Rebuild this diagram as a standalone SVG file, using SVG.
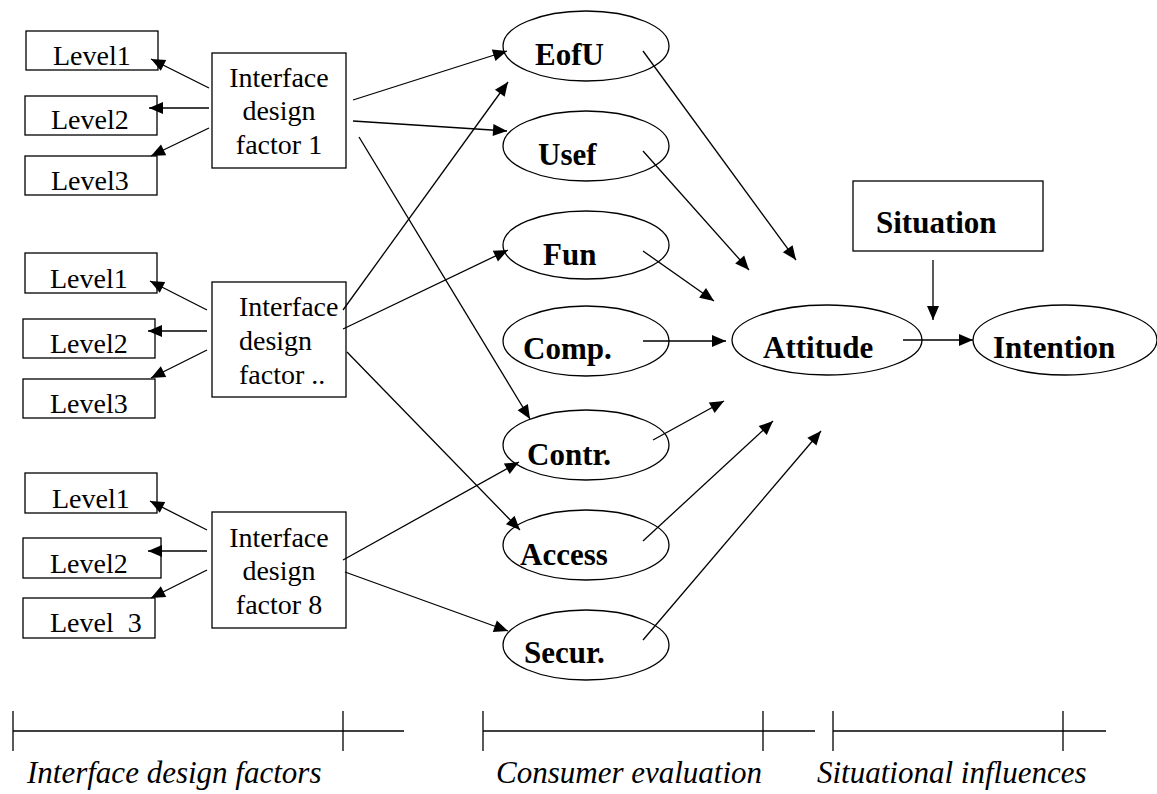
<svg xmlns="http://www.w3.org/2000/svg" width="1157" height="794" viewBox="0 0 1157 794">
<style>
.box{fill:#fff;stroke:#000;stroke-width:1.3}
.ell{fill:#fff;stroke:#000;stroke-width:1.3}
.t{font-family:"Liberation Serif","Times New Roman",serif;font-size:28px;fill:#000}
.b{font-family:"Liberation Serif","Times New Roman",serif;font-size:31px;font-weight:bold;fill:#000}
.i{font-family:"Liberation Serif","Times New Roman",serif;font-size:31px;font-style:italic;fill:#000}
.c{text-anchor:middle}
.ln{stroke:#000;stroke-width:1.3;fill:none}
.ar{stroke:#000;stroke-width:1.3;fill:none;marker-end:url(#ah)}
</style>
<defs>
<marker id="ah" markerUnits="userSpaceOnUse" markerWidth="16" markerHeight="14" viewBox="0 0 16 14" refX="15" refY="7" orient="auto">
<path d="M1,1 L15,7 L1,13 z" fill="#000"/>
</marker>
</defs>
<rect width="1157" height="794" fill="#fff"/>

<g id="g1-level1"><rect class="box" x="26" y="31" width="132" height="39"/><text class="t" x="53" y="65">Level1</text></g>
<g id="g1-level2"><rect class="box" x="25" y="96" width="132" height="39"/><text class="t" x="51" y="129">Level2</text></g>
<g id="g1-level3"><rect class="box" x="25" y="156" width="132" height="39"/><text class="t" x="51" y="190">Level3</text></g>
<g id="factor1"><rect class="box" x="212" y="53" width="134" height="115"/>
<text class="t c" x="279" y="87">Interface</text><text class="t c" x="279" y="120">design</text><text class="t c" x="279" y="154">factor 1</text></g>

<g id="g2-level1"><rect class="box" x="25" y="253" width="132" height="40"/><text class="t" x="50" y="288">Level1</text></g>
<g id="g2-level2"><rect class="box" x="23" y="319" width="132" height="39"/><text class="t" x="50" y="353">Level2</text></g>
<g id="g2-level3"><rect class="box" x="23" y="379" width="132" height="39"/><text class="t" x="50" y="413">Level3</text></g>
<g id="factor2"><rect class="box" x="212" y="282" width="134" height="115"/>
<text class="t" x="239" y="316">Interface</text><text class="t" x="239" y="350">design</text><text class="t" x="239" y="384">factor ..</text></g>

<g id="g3-level1"><rect class="box" x="25" y="473" width="132" height="40"/><text class="t" x="52" y="508">Level1</text></g>
<g id="g3-level2"><rect class="box" x="23" y="538" width="138" height="40"/><text class="t" x="50" y="573">Level2</text></g>
<g id="g3-level3"><rect class="box" x="23" y="598" width="132" height="40"/><text class="t" x="50" y="632" xml:space="preserve">Level  3</text></g>
<g id="factor8"><rect class="box" x="212" y="512" width="134" height="116"/>
<text class="t c" x="279" y="547">Interface</text><text class="t c" x="279" y="580">design</text><text class="t c" x="279" y="614">factor 8</text></g>

<g id="eofu"><ellipse class="ell" cx="586" cy="46" rx="83" ry="35"/><text class="b" x="535" y="65">EofU</text></g>
<g id="usef"><ellipse class="ell" cx="586" cy="146" rx="83" ry="35"/><text class="b" x="538" y="165">Usef</text></g>
<g id="fun"><ellipse class="ell" cx="586" cy="245" rx="83" ry="34"/><text class="b" x="543" y="265">Fun</text></g>
<g id="comp"><ellipse class="ell" cx="586" cy="341" rx="83" ry="35"/><text class="b" x="523" y="359">Comp.</text></g>
<g id="contr"><ellipse class="ell" cx="586" cy="445" rx="83" ry="35"/><text class="b" x="527" y="465">Contr.</text></g>
<g id="access"><ellipse class="ell" cx="586" cy="545" rx="83" ry="35"/><text class="b" x="520" y="565">Access</text></g>
<g id="secur"><ellipse class="ell" cx="586" cy="645" rx="83" ry="35"/><text class="b" x="524" y="663">Secur.</text></g>

<g id="attitude"><ellipse class="ell" cx="827" cy="340" rx="95" ry="35"/><text class="b" x="763" y="358">Attitude</text></g>
<g id="intention"><ellipse class="ell" cx="1065" cy="340" rx="92" ry="35"/><text class="b" x="993" y="358">Intention</text></g>
<g id="situation"><rect class="box" x="853" y="181" width="190" height="70"/><text class="b" x="876" y="233">Situation</text></g>

<g id="connectors">
<line class="ar" x1="209" y1="88" x2="151" y2="59"/>
<line class="ar" x1="209" y1="108" x2="149" y2="108"/>
<line class="ar" x1="209" y1="128" x2="151" y2="156"/>
<line class="ar" x1="207" y1="310" x2="150" y2="281"/>
<line class="ar" x1="207" y1="331" x2="148" y2="331"/>
<line class="ar" x1="207" y1="350" x2="151" y2="378"/>
<line class="ar" x1="207" y1="530" x2="150" y2="501"/>
<line class="ar" x1="207" y1="551" x2="148" y2="551"/>
<line class="ar" x1="207" y1="570" x2="151" y2="598"/>

<line class="ar" x1="353" y1="100" x2="507" y2="51"/>
<line class="ar" x1="353" y1="121" x2="507" y2="131"/>
<line class="ar" x1="359" y1="137" x2="530" y2="419"/>
<line class="ar" x1="343" y1="310" x2="508" y2="82"/>
<line class="ar" x1="343" y1="329" x2="508" y2="250"/>
<line class="ar" x1="347" y1="352" x2="520" y2="530"/>
<line class="ar" x1="343" y1="560" x2="519" y2="462"/>
<line class="ar" x1="345" y1="572" x2="508" y2="631"/>

<line class="ar" x1="643" y1="51" x2="796" y2="260"/>
<line class="ar" x1="643" y1="151" x2="749" y2="270"/>
<line class="ar" x1="643" y1="251" x2="714" y2="301"/>
<line class="ar" x1="643" y1="341" x2="726" y2="341"/>
<line class="ar" x1="653" y1="440" x2="724" y2="401"/>
<line class="ar" x1="643" y1="541" x2="773" y2="421"/>
<line class="ar" x1="643" y1="640" x2="821" y2="431"/>

<line class="ar" x1="933" y1="260" x2="933" y2="320"/>
<line class="ar" x1="903" y1="340" x2="973" y2="340"/>
</g>

<g id="scale">
<line class="ln" x1="13" y1="731" x2="404" y2="731"/>
<line class="ln" x1="13" y1="711" x2="13" y2="751"/>
<line class="ln" x1="343" y1="711" x2="343" y2="751"/>
<line class="ln" x1="483" y1="731" x2="815" y2="731"/>
<line class="ln" x1="483" y1="711" x2="483" y2="751"/>
<line class="ln" x1="763" y1="711" x2="763" y2="751"/>
<line class="ln" x1="833" y1="731" x2="1106" y2="731"/>
<line class="ln" x1="833" y1="711" x2="833" y2="751"/>
<line class="ln" x1="1063" y1="711" x2="1063" y2="751"/>
<text class="i" x="27" y="783">Interface design factors</text>
<text class="i" x="496" y="783">Consumer evaluation</text>
<text class="i" x="817" y="783">Situational influences</text>
</g>
</svg>
